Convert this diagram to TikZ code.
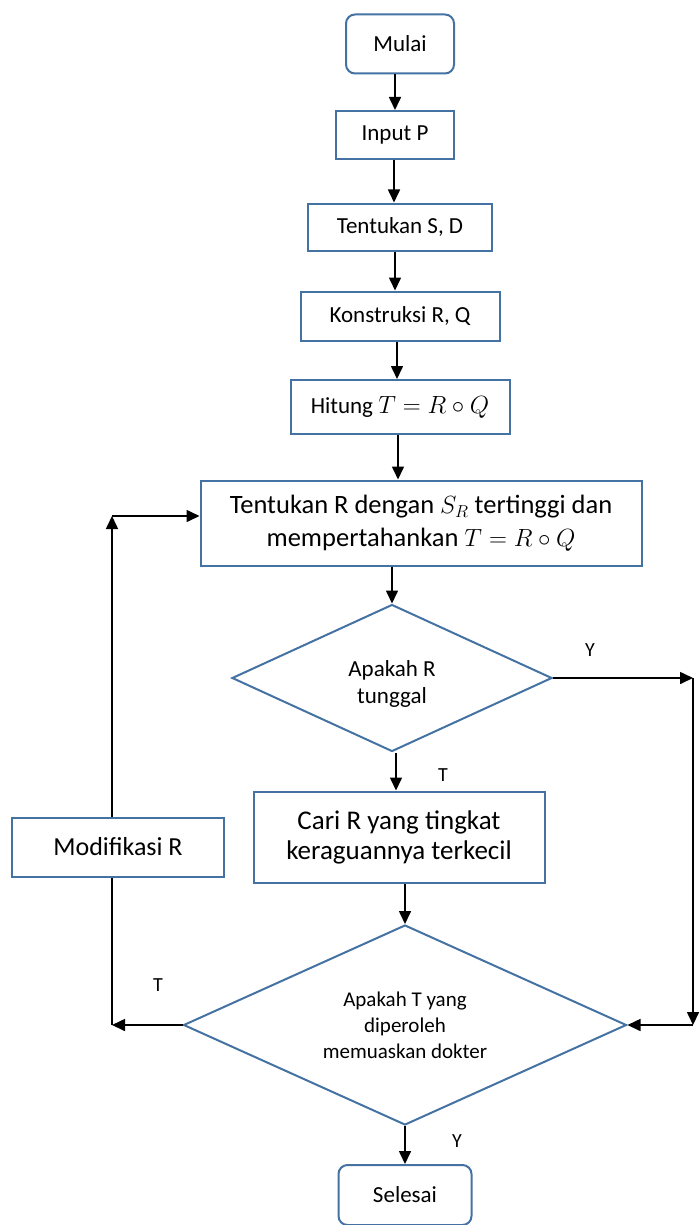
\documentclass[tikz,border=0pt]{standalone}
\usepackage{fontspec}
\setmainfont{Carlito}
\usetikzlibrary{arrows.meta,positioning,shapes.geometric}
\definecolor{fcblue}{RGB}{68,114,162}

\begin{document}
\begin{tikzpicture}[
  x=1pt, y=-1pt,
  box/.style={draw=fcblue, line width=2pt, align=center, inner sep=2pt},
  term/.style={box, rounded corners=9pt},
  decide/.style={diamond, aspect=2.2, draw=fcblue, line width=2pt, align=center, inner sep=0pt},
  arr/.style={-{Triangle[length=13pt,width=12pt]}, line width=1.6pt},
  lab/.style={font=\fontsize{20}{23}\selectfont}
]
\useasboundingbox (0,0) rectangle (699,1225);
% main column
\node[term, minimum width=108pt, minimum height=59pt, font=\fontsize{23}{27}\selectfont] (mulai) at (400,44) {Mulai};
\node[box, minimum width=118pt, minimum height=48pt, font=\fontsize{23}{27}\selectfont] (input) at (395,135) {Input P};
\node[box, minimum width=184pt, minimum height=47pt, font=\fontsize{23}{27}\selectfont] (tentu) at (400,227) {Tentukan S, D};
\node[box, minimum width=199pt, minimum height=49pt, font=\fontsize{23}{27}\selectfont] (konst) at (400,316) {Konstruksi R, Q};
\node[box, minimum width=219pt, minimum height=54pt, font=\fontsize{23}{27}\selectfont] (hitung) at (400,407) {Hitung $T = R \circ Q$};
\node[box, minimum width=441pt, minimum height=85pt, font=\fontsize{26.5}{33}\selectfont] (pilih) at (421,523)
  {Tentukan R dengan $S_R$ tertinggi dan\\ mempertahankan $T = R \circ Q$};
\node[decide, minimum width=320pt, minimum height=147pt, font=\fontsize{23}{27}\selectfont] (tunggal) at (392,678) {};
\node[font=\fontsize{23}{27}\selectfont, align=center] (tunggaltxt) at (392,684) {Apakah R\\ tunggal};
\node[box, minimum width=291pt, minimum height=91pt, font=\fontsize{27}{30}\selectfont] (cari) at (399,837)
  {Cari R yang tingkat\\ keraguannya terkecil};
\node[decide, minimum width=443pt, minimum height=200pt, font=\fontsize{21}{26}\selectfont] (puas) at (405,1025)
  {Apakah T yang\\ diperoleh\\ memuaskan dokter};
\node[term, minimum width=133pt, minimum height=60pt, font=\fontsize{23}{27}\selectfont] (selesai) at (405,1195) {Selesai};
% loop back
\node[box, minimum width=212pt, minimum height=59pt, font=\fontsize{26}{29}\selectfont] (modif) at (118,847) {Modifikasi R};
\coordinate (kanan) at (693,0);
\coordinate (kiri) at (112,0);
\coordinate (balik) at (112,516);

\draw[arr] (mulai.south -| 395,0) -- (input.north -| 395,0);
\draw[arr] (input.south -| 394,0) -- (tentu.north -| 394,0);
\draw[arr] (tentu.south -| 395,0) -- (konst.north -| 395,0);
\draw[arr] (konst.south -| 397,0) -- (hitung.north -| 397,0);
\draw[arr] (hitung.south -| 398,0) -- (pilih.north -| 398,0);
\draw[arr] (pilih.south -| tunggal.north) -- (tunggal.north);
\draw[arr] (tunggal.south -| 396,0) -- (cari.north -| 396,0);
\draw[arr] (cari.south -| puas.north) -- (puas.north);
\draw[arr] (puas.south) -- (selesai.north);
% ya: lompat ke keputusan akhir
\draw[arr] (tunggal.east) -- (tunggal.east -| kanan);
\draw[arr] (tunggal.east -| kanan) -- (puas.east -| kanan);
\draw[arr] (puas.east -| kanan) -- (puas.east);
% tidak: modifikasi
\draw[arr] (puas.west) -- (puas.west -| kiri);
\draw[line width=1.6pt] (puas.west -| kiri) -- (modif.south -| kiri);
\draw[arr] (modif.north -| kiri) -- (balik);
\draw[arr] (balik) -- (balik -| pilih.west);

\node[lab] (ya1) at (590,650) {Y};
\node[lab] (tidak1) at (443,775) {T};
\node[lab] (tidak2) at (158,985) {T};
\node[lab] (ya2) at (457,1141) {Y};
\end{tikzpicture}
\end{document}
